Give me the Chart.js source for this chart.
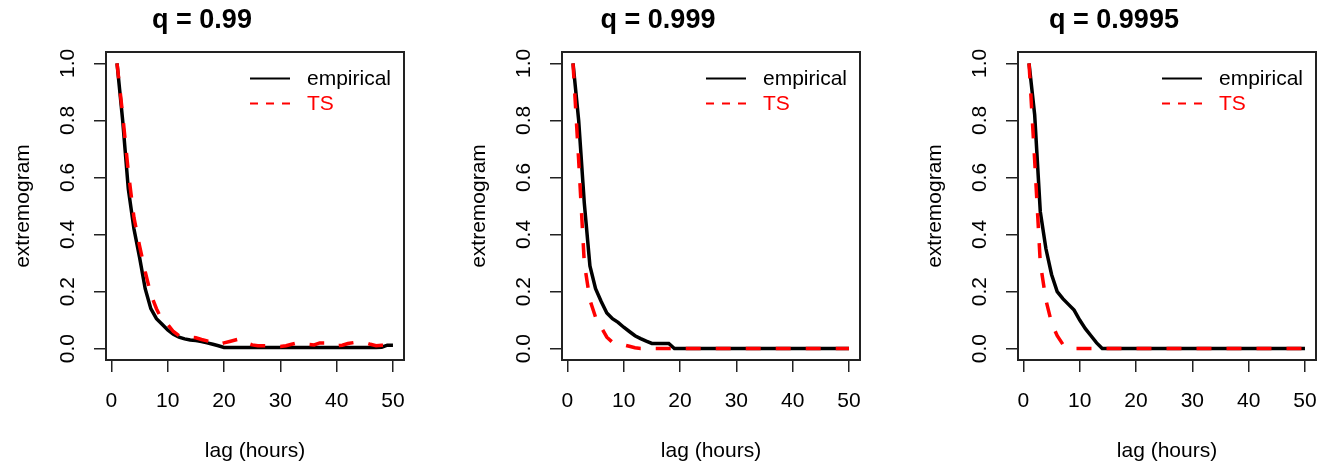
<!DOCTYPE html>
<html>
<head>
<meta charset="utf-8">
<script src="https://cdn.jsdelivr.net/npm/chart.js@4.4.0/dist/chart.umd.min.js"></script>
<style>
  html, body { margin: 0; padding: 0; background: #fff; overflow: hidden; }
  #wrap { position: relative; width: 1328px; height: 467px; overflow: hidden; }
  canvas { position: absolute; top: 0; }
</style>
</head>
<body>
<div id="wrap">
  <canvas id="panel-1" width="456" height="467" style="left:0px"></canvas>
  <canvas id="panel-2" width="456" height="467" style="left:456px"></canvas>
  <canvas id="panel-3" width="456" height="467" style="left:912px"></canvas>
</div>
<script>
const lags = [1, 2, 3, 4, 5, 6, 7, 8, 9, 10,
              11, 12, 13, 14, 15, 16, 17, 18, 19, 20,
              21, 22, 23, 24, 25, 26, 27, 28, 29, 30,
              31, 32, 33, 34, 35, 36, 37, 38, 39, 40,
              41, 42, 43, 44, 45, 46, 47, 48, 49, 50];
const xTicks = [0, 10, 20, 30, 40, 50];
const yTicks = [0, 0.2, 0.4, 0.6, 0.8, 1.0];
const titles = ['q = 0.99', 'q = 0.999', 'q = 0.9995'];
const seriesNames = ['empirical', 'TS'];

// q = 0.99
const empirical99 = [1.0, 0.80, 0.56, 0.42, 0.32, 0.21, 0.14, 0.105, 0.085, 0.065,
                     0.05, 0.04, 0.034, 0.03, 0.028, 0.025, 0.02, 0.015, 0.01, 0.004,
                     0.004, 0.004, 0.004, 0.004, 0.004, 0.004, 0.004, 0.004, 0.004, 0.004,
                     0.004, 0.004, 0.004, 0.004, 0.004, 0.004, 0.004, 0.004, 0.004, 0.004,
                     0.004, 0.004, 0.004, 0.004, 0.004, 0.004, 0.004, 0.005, 0.012, 0.012];
const ts99 = [1.0, 0.82, 0.62, 0.46, 0.36, 0.27, 0.19, 0.14, 0.10, 0.085,
              0.06, 0.045, 0.04, 0.04, 0.038, 0.032, 0.027, 0.02, 0.015, 0.02,
              0.025, 0.03, 0.035, 0.02, 0.013, 0.01, 0.01, 0.01, 0.008, 0.007,
              0.01, 0.015, 0.02, 0.02, 0.015, 0.013, 0.02, 0.02, 0.013, 0.01,
              0.012, 0.018, 0.021, 0.021, 0.021, 0.015, 0.01, 0.012, 0.012, 0.01];

// q = 0.999
const empirical999 = [1.0, 0.80, 0.51, 0.29, 0.21, 0.165, 0.125, 0.105, 0.092, 0.075,
                      0.06, 0.045, 0.035, 0.026, 0.018, 0.018, 0.018, 0.018, 0, 0,
                      0, 0, 0, 0, 0, 0, 0, 0, 0, 0,
                      0, 0, 0, 0, 0, 0, 0, 0, 0, 0,
                      0, 0, 0, 0, 0, 0, 0, 0, 0, 0];
const ts999 = [1.0, 0.66, 0.30, 0.17, 0.11, 0.075, 0.04, 0.022, 0.018, 0.013,
               0.008, 0.003, 0, 0, 0, 0, 0, 0, 0, 0,
               0, 0, 0, 0, 0, 0, 0, 0, 0, 0,
               0, 0, 0, 0, 0, 0, 0, 0, 0, 0,
               0, 0, 0, 0, 0, 0, 0, 0, 0, 0];

// q = 0.9995
const empirical9995 = [1.0, 0.82, 0.48, 0.35, 0.26, 0.20, 0.175, 0.155, 0.135, 0.10,
                       0.07, 0.045, 0.02, 0, 0, 0, 0, 0, 0, 0,
                       0, 0, 0, 0, 0, 0, 0, 0, 0, 0,
                       0, 0, 0, 0, 0, 0, 0, 0, 0, 0,
                       0, 0, 0, 0, 0, 0, 0, 0, 0, 0];
const ts9995 = [1.0, 0.66, 0.30, 0.17, 0.09, 0.045, 0.015, 0.002, 0, 0,
                0, 0, 0, 0, 0, 0, 0, 0, 0, 0,
                0, 0, 0, 0, 0, 0, 0, 0, 0, 0,
                0, 0, 0, 0, 0, 0, 0, 0, 0, 0,
                0, 0, 0, 0, 0, 0, 0, 0, 0, 0];

const FONT = '"Liberation Sans", Arial, Helvetica, sans-serif';
Chart.defaults.font.family = FONT;
Chart.defaults.color = '#000';

// box round the plot region plus an R style legend without frame
const boxAndLegend = {
    id: 'boxAndLegend',
    afterDraw(chart) {
        const { ctx, chartArea: a } = chart;
        ctx.save();
        ctx.strokeStyle = '#222';
        ctx.lineWidth = 2;
        ctx.strokeRect(a.left, a.top, a.right - a.left, a.bottom - a.top);

        chart.data.datasets.forEach((ds, i) => {
            const y = a.top + 26.5 + i * 25;
            ctx.strokeStyle = ds.borderColor;
            ctx.lineWidth = 2;
            ctx.setLineDash(ds.borderDash.length ? [8, 8] : []);
            ctx.beginPath();
            ctx.moveTo(a.right - 154, y);
            ctx.lineTo(a.right - 114, y);
            ctx.stroke();
            ctx.setLineDash([]);
            ctx.fillStyle = ds.borderColor;
            ctx.font = '21px ' + FONT;
            ctx.textBaseline = 'middle';
            ctx.textAlign = 'left';
            ctx.fillText(ds.label, a.right - 97, y + 1);
        });
        ctx.restore();
    }
};

function points(values) {
    return lags.map((lag, i) => ({ x: lag, y: values[i] }));
}

function drawPanel(canvasId, title, empirical, ts) {
    const canvas = document.querySelector(canvasId);
    new Chart(canvas.getContext('2d'), {
        type: 'line',
        data: {
            datasets: [{
                label: seriesNames[0],
                data: points(empirical),
                borderColor: '#000000',
                borderWidth: 3.5,
                borderDash: [],
                order: 1
            }, {
                label: seriesNames[1],
                data: points(ts),
                borderColor: '#ff0000',
                borderWidth: 3.5,
                borderDash: [15, 15],
                order: 0
            }]
        },
        options: {
            responsive: false,
            animation: false,
            layout: { padding: { top: 0, left: 0, right: 52, bottom: 0 } },
            elements: { point: { radius: 0 }, line: { tension: 0, fill: false } },
            plugins: {
                legend: { display: false },
                tooltip: { enabled: false },
                title: {
                    display: true,
                    text: title,
                    font: { size: 27, weight: 'bold' },
                    color: '#000',
                    padding: { top: 4, bottom: 15.6 }
                }
            },
            scales: {
                x: {
                    type: 'linear',
                    min: -0.96,
                    max: 51.96,
                    afterBuildTicks: scale => { scale.ticks = xTicks.map(v => ({ value: v })); },
                    afterFit: scale => { scale.height = 107; },
                    grid: { drawOnChartArea: false, drawTicks: true, tickLength: 12, color: '#222', lineWidth: 1.5 },
                    border: { display: false },
                    ticks: { autoSkip: false, maxRotation: 0, padding: 16.5, font: { size: 21 }, color: '#000',
                             callback: value => String(value) },
                    title: { display: true, text: 'lag (hours)', font: { size: 21 }, color: '#000',
                             padding: { top: 0, bottom: 3 } }
                },
                y: {
                    type: 'linear',
                    min: -0.04,
                    max: 1.04,
                    afterBuildTicks: scale => { scale.ticks = yTicks.map(v => ({ value: v })); },
                    afterFit: scale => { scale.width = 106; },
                    grid: { drawOnChartArea: false, drawTicks: true, tickLength: 12, color: '#222', lineWidth: 1.5 },
                    border: { display: false },
                    ticks: { autoSkip: false, minRotation: 90, maxRotation: 90, crossAlign: 'center', padding: 11,
                             font: { size: 21 }, color: '#000',
                             callback: value => value.toFixed(1) },
                    title: { display: true, text: 'extremogram', font: { size: 21 }, color: '#000',
                             padding: { top: 11, bottom: 0 } }
                }
            }
        },
        plugins: [boxAndLegend]
    });
}

drawPanel('#panel-1', titles[0], empirical99, ts99);
drawPanel('#panel-2', titles[1], empirical999, ts999);
drawPanel('#panel-3', titles[2], empirical9995, ts9995);
</script>
</body>
</html>
